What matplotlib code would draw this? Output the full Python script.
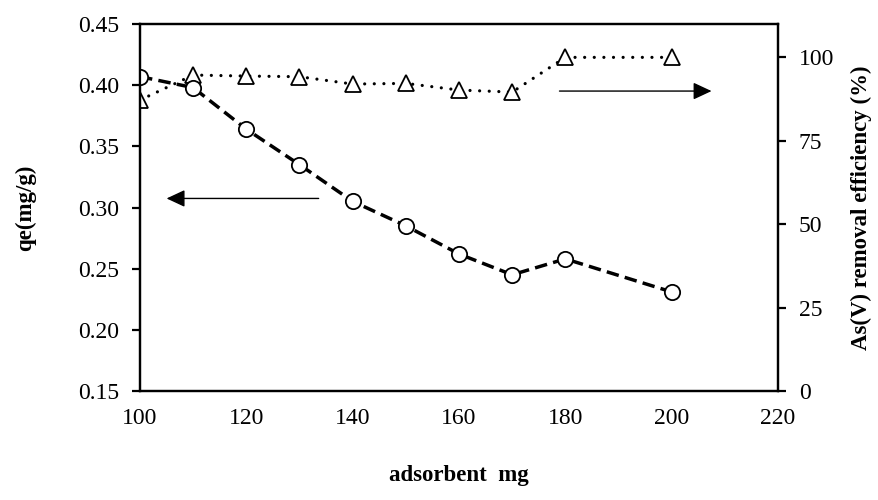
import matplotlib
matplotlib.use("Agg")
import matplotlib.pyplot as plt

# Adsorbent dose series
adsorbent_mg = [100, 110, 120, 130, 140, 150, 160, 170, 180, 200]
qe_mg_per_g = [0.407, 0.398, 0.364, 0.335, 0.305, 0.285, 0.262, 0.245, 0.258, 0.231]
removal_pct = [87.2, 94.7, 94.4, 94.2, 92.0, 92.2, 90.2, 89.6, 100.0, 100.0]

x_ticks = [100, 120, 140, 160, 180, 200, 220]
qe_ticks = [0.15, 0.20, 0.25, 0.30, 0.35, 0.40, 0.45]
pct_ticks = [0, 25, 50, 75, 100]

plt.rcParams['font.family'] = ['Liberation Serif', 'DejaVu Serif']
FS = 17
LFS = 16.5

fig = plt.figure(figsize=(8.79, 5.0), dpi=100)
ax = fig.add_axes([140 / 879, 1 - 391 / 500, (778 - 140) / 879, (391 - 24) / 500])
ax2 = ax.twinx()

# removal efficiency (right axis): dotted line with open triangles
ax2.plot(adsorbent_mg, removal_pct, color='black', lw=2.3,
         dashes=(0.01, 3.0), dash_capstyle='round',
         marker='^', ms=11, mfc='white', mec='black', mew=1.3)

# qe (left axis): dashed line with open circles, drawn above the triangles
ax.plot(adsorbent_mg, qe_mg_per_g, color='black', lw=2.5,
        dashes=(3.6, 1.8),
        marker='o', ms=11, mfc='white', mec='black', mew=1.3)
ax.set_zorder(ax2.get_zorder() + 1)
ax.patch.set_visible(False)

ax.set_xlim(100, 220)
ax.set_ylim(0.15, 0.45)
ax2.set_ylim(0, 110)
ax.set_xticks(x_ticks)
ax.set_yticks(qe_ticks)
ax.set_yticklabels([f"{v:.2f}" for v in qe_ticks])
ax2.set_yticks(pct_ticks)

for a in (ax, ax2):
    for s in a.spines.values():
        s.set_linewidth(1.6)
        s.set_color('black')

ax.tick_params(axis='x', length=0, pad=12, labelsize=FS)
ax.tick_params(axis='y', direction='out', length=6, width=1.6, pad=9, labelsize=FS)
ax2.tick_params(axis='y', direction='out', length=6, width=1.6, pad=9, labelsize=FS)

ax.set_xlabel('adsorbent  mg', fontsize=LFS, fontweight='bold', labelpad=26)
ax.set_ylabel('qe(mg/g)', fontsize=LFS, fontweight='bold', labelpad=30)
ax2.set_ylabel('As(V) removal efficiency (%)', fontsize=LFS, fontweight='bold', labelpad=12)

arrow_style = dict(arrowstyle='-|>,head_length=0.75,head_width=0.35',
                   mutation_scale=15, lw=1.0, color='black',
                   shrinkA=0, shrinkB=0)
# arrow pointing to the left axis (qe)
ax.annotate('', xy=(105, 0.3074), xytext=(133.6, 0.3074), arrowprops=arrow_style)
# arrow pointing to the right axis (removal efficiency)
ax2.annotate('', xy=(207.5, 89.9), xytext=(178.9, 89.9), arrowprops=arrow_style,
             annotation_clip=False)

fig.savefig('out.png', dpi=100)
